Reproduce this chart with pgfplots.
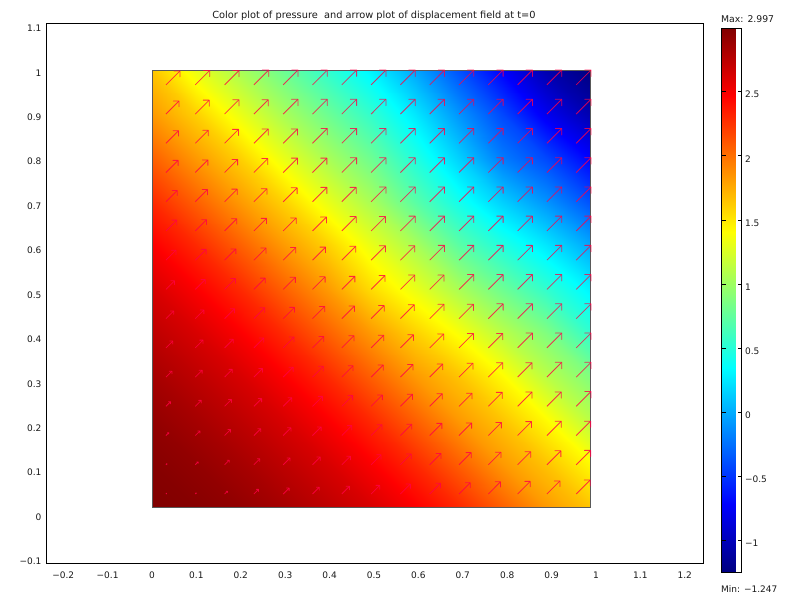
\documentclass[border=0pt]{standalone}
\usepackage{pgfplots}
\pgfplotsset{compat=1.18}
\usepackage{pgfplotstable}
\usepackage{fontspec}
\setmainfont{DejaVu Sans}
\usetikzlibrary{arrows.meta}

% pressure on a regular grid
\pgfplotstableread[row sep=\\]{
x y p\\
0 0.0225 2.997\\ 0.0987 0.0225 2.97\\ 0.1973 0.0225 2.92\\ 0.296 0.0225 2.84\\ 0.3946 0.0225 2.74\\ 0.4933 0.0225 2.63\\ 0.5919 0.0225 2.48\\ 0.6906 0.0225 2.30\\ 0.7892 0.0225 2.07\\ 0.8879 0.0225 1.83\\ 0.9865 0.0225 1.65\\
0 0.1207 2.97\\ 0.0987 0.1207 2.92\\ 0.1973 0.1207 2.84\\ 0.296 0.1207 2.74\\ 0.3946 0.1207 2.63\\ 0.4933 0.1207 2.48\\ 0.5919 0.1207 2.30\\ 0.6906 0.1207 2.07\\ 0.7892 0.1207 1.83\\ 0.8879 0.1207 1.65\\ 0.9865 0.1207 1.42\\
0 0.2189 2.92\\ 0.0987 0.2189 2.84\\ 0.1973 0.2189 2.74\\ 0.296 0.2189 2.63\\ 0.3946 0.2189 2.48\\ 0.4933 0.2189 2.30\\ 0.5919 0.2189 2.07\\ 0.6906 0.2189 1.83\\ 0.7892 0.2189 1.65\\ 0.8879 0.2189 1.42\\ 0.9865 0.2189 1.12\\
0 0.3171 2.84\\ 0.0987 0.3171 2.74\\ 0.1973 0.3171 2.63\\ 0.296 0.3171 2.48\\ 0.3946 0.3171 2.30\\ 0.4933 0.3171 2.07\\ 0.5919 0.3171 1.83\\ 0.6906 0.3171 1.65\\ 0.7892 0.3171 1.42\\ 0.8879 0.3171 1.12\\ 0.9865 0.3171 0.88\\
0 0.4153 2.74\\ 0.0987 0.4153 2.63\\ 0.1973 0.4153 2.48\\ 0.296 0.4153 2.30\\ 0.3946 0.4153 2.07\\ 0.4933 0.4153 1.83\\ 0.5919 0.4153 1.60\\ 0.6906 0.4153 1.38\\ 0.7892 0.4153 1.12\\ 0.8879 0.4153 0.88\\ 0.9865 0.4153 0.55\\
0 0.5135 2.63\\ 0.0987 0.5135 2.48\\ 0.1973 0.5135 2.30\\ 0.296 0.5135 2.07\\ 0.3946 0.5135 1.83\\ 0.4933 0.5135 1.55\\ 0.5919 0.5135 1.32\\ 0.6906 0.5135 1.05\\ 0.7892 0.5135 0.80\\ 0.8879 0.5135 0.55\\ 0.9865 0.5135 0.30\\
0 0.6117 2.48\\ 0.0987 0.6117 2.30\\ 0.1973 0.6117 2.07\\ 0.296 0.6117 1.83\\ 0.3946 0.6117 1.60\\ 0.4933 0.6117 1.32\\ 0.5919 0.6117 1.05\\ 0.6906 0.6117 0.72\\ 0.7892 0.6117 0.48\\ 0.8879 0.6117 0.25\\ 0.9865 0.6117 -0.02\\
0 0.7099 2.30\\ 0.0987 0.7099 2.07\\ 0.1973 0.7099 1.83\\ 0.296 0.7099 1.60\\ 0.3946 0.7099 1.32\\ 0.4933 0.7099 1.05\\ 0.5919 0.7099 0.72\\ 0.6906 0.7099 0.42\\ 0.7892 0.7099 0.15\\ 0.8879 0.7099 -0.10\\ 0.9865 0.7099 -0.38\\
0 0.8081 2.07\\ 0.0987 0.8081 1.83\\ 0.1973 0.8081 1.60\\ 0.296 0.8081 1.32\\ 0.3946 0.8081 1.05\\ 0.4933 0.8081 0.80\\ 0.5919 0.8081 0.48\\ 0.6906 0.8081 0.15\\ 0.7892 0.8081 -0.20\\ 0.8879 0.8081 -0.42\\ 0.9865 0.8081 -0.72\\
0 0.9063 1.83\\ 0.0987 0.9063 1.60\\ 0.1973 0.9063 1.32\\ 0.296 0.9063 1.05\\ 0.3946 0.9063 0.80\\ 0.4933 0.9063 0.55\\ 0.5919 0.9063 0.25\\ 0.6906 0.9063 -0.10\\ 0.7892 0.9063 -0.42\\ 0.8879 0.9063 -0.78\\ 0.9865 0.9063 -1.05\\
0 1.0045 1.65\\ 0.0987 1.0045 1.32\\ 0.1973 1.0045 1.05\\ 0.296 1.0045 0.80\\ 0.3946 1.0045 0.55\\ 0.4933 1.0045 0.30\\ 0.5919 1.0045 -0.02\\ 0.6906 1.0045 -0.38\\ 0.7892 1.0045 -0.72\\ 0.8879 1.0045 -1.05\\ 0.9865 1.0045 -1.247\\
}\pressure

% displacement arrows: position and component (both components about equal)
\pgfplotstableread[row sep=\\]{
x y u\\
.0315 .0518 .002\\ .0975 .0518 .003\\ .1635 .0518 .007\\ .2295 .0518 .011\\ .2955 .0518 .014\\ .3615 .0518 .016\\ .4275 .0518 .018\\ .4935 .0518 .020\\ .5595 .0518 .023\\ .6255 .0518 .025\\ .6915 .0518 .026\\ .7575 .0518 .028\\ .8235 .0518 .029\\ .8895 .0518 .030\\ .9555 .0518 .032\\
.0315 .1176 .003\\ .0975 .1176 .007\\ .1635 .1176 .011\\ .2295 .1176 .014\\ .2955 .1176 .016\\ .3615 .1176 .018\\ .4275 .1176 .020\\ .4935 .1176 .023\\ .5595 .1176 .025\\ .6255 .1176 .026\\ .6915 .1176 .028\\ .7575 .1176 .029\\ .8235 .1176 .030\\ .8895 .1176 .032\\ .9555 .1176 .033\\
.0315 .1834 .007\\ .0975 .1834 .011\\ .1635 .1834 .014\\ .2295 .1834 .016\\ .2955 .1834 .018\\ .3615 .1834 .020\\ .4275 .1834 .023\\ .4935 .1834 .025\\ .5595 .1834 .026\\ .6255 .1834 .028\\ .6915 .1834 .029\\ .7575 .1834 .030\\ .8235 .1834 .032\\ .8895 .1834 .033\\ .9555 .1834 .033\\
.0315 .2492 .011\\ .0975 .2492 .014\\ .1635 .2492 .016\\ .2295 .2492 .018\\ .2955 .2492 .020\\ .3615 .2492 .023\\ .4275 .2492 .025\\ .4935 .2492 .026\\ .5595 .2492 .028\\ .6255 .2492 .029\\ .6915 .2492 .030\\ .7575 .2492 .032\\ .8235 .2492 .033\\ .8895 .2492 .033\\ .9555 .2492 .034\\
.0315 .3150 .014\\ .0975 .3150 .016\\ .1635 .3150 .018\\ .2295 .3150 .020\\ .2955 .3150 .023\\ .3615 .3150 .025\\ .4275 .3150 .026\\ .4935 .3150 .028\\ .5595 .3150 .029\\ .6255 .3150 .030\\ .6915 .3150 .032\\ .7575 .3150 .033\\ .8235 .3150 .033\\ .8895 .3150 .034\\ .9555 .3150 .034\\
.0315 .3808 .016\\ .0975 .3808 .018\\ .1635 .3808 .020\\ .2295 .3808 .023\\ .2955 .3808 .025\\ .3615 .3808 .026\\ .4275 .3808 .028\\ .4935 .3808 .029\\ .5595 .3808 .030\\ .6255 .3808 .032\\ .6915 .3808 .033\\ .7575 .3808 .033\\ .8235 .3808 .034\\ .8895 .3808 .034\\ .9555 .3808 .034\\
.0315 .4466 .018\\ .0975 .4466 .020\\ .1635 .4466 .023\\ .2295 .4466 .025\\ .2955 .4466 .026\\ .3615 .4466 .028\\ .4275 .4466 .029\\ .4935 .4466 .030\\ .5595 .4466 .032\\ .6255 .4466 .033\\ .6915 .4466 .033\\ .7575 .4466 .034\\ .8235 .4466 .034\\ .8895 .4466 .034\\ .9555 .4466 .034\\
.0315 .5124 .020\\ .0975 .5124 .023\\ .1635 .5124 .025\\ .2295 .5124 .026\\ .2955 .5124 .028\\ .3615 .5124 .029\\ .4275 .5124 .030\\ .4935 .5124 .032\\ .5595 .5124 .033\\ .6255 .5124 .033\\ .6915 .5124 .034\\ .7575 .5124 .034\\ .8235 .5124 .034\\ .8895 .5124 .034\\ .9555 .5124 .034\\
.0315 .5782 .023\\ .0975 .5782 .025\\ .1635 .5782 .026\\ .2295 .5782 .028\\ .2955 .5782 .029\\ .3615 .5782 .030\\ .4275 .5782 .032\\ .4935 .5782 .033\\ .5595 .5782 .033\\ .6255 .5782 .034\\ .6915 .5782 .034\\ .7575 .5782 .034\\ .8235 .5782 .034\\ .8895 .5782 .034\\ .9555 .5782 .034\\
.0315 .6440 .025\\ .0975 .6440 .026\\ .1635 .6440 .028\\ .2295 .6440 .029\\ .2955 .6440 .030\\ .3615 .6440 .032\\ .4275 .6440 .033\\ .4935 .6440 .033\\ .5595 .6440 .034\\ .6255 .6440 .034\\ .6915 .6440 .034\\ .7575 .6440 .034\\ .8235 .6440 .034\\ .8895 .6440 .034\\ .9555 .6440 .034\\
.0315 .7098 .026\\ .0975 .7098 .028\\ .1635 .7098 .029\\ .2295 .7098 .030\\ .2955 .7098 .032\\ .3615 .7098 .033\\ .4275 .7098 .033\\ .4935 .7098 .034\\ .5595 .7098 .034\\ .6255 .7098 .034\\ .6915 .7098 .034\\ .7575 .7098 .034\\ .8235 .7098 .034\\ .8895 .7098 .034\\ .9555 .7098 .034\\
.0315 .7756 .028\\ .0975 .7756 .029\\ .1635 .7756 .030\\ .2295 .7756 .032\\ .2955 .7756 .033\\ .3615 .7756 .033\\ .4275 .7756 .034\\ .4935 .7756 .034\\ .5595 .7756 .034\\ .6255 .7756 .034\\ .6915 .7756 .034\\ .7575 .7756 .034\\ .8235 .7756 .034\\ .8895 .7756 .034\\ .9555 .7756 .034\\
.0315 .8414 .029\\ .0975 .8414 .030\\ .1635 .8414 .032\\ .2295 .8414 .033\\ .2955 .8414 .033\\ .3615 .8414 .034\\ .4275 .8414 .034\\ .4935 .8414 .034\\ .5595 .8414 .034\\ .6255 .8414 .034\\ .6915 .8414 .034\\ .7575 .8414 .034\\ .8235 .8414 .034\\ .8895 .8414 .034\\ .9555 .8414 .034\\
.0315 .9072 .030\\ .0975 .9072 .032\\ .1635 .9072 .033\\ .2295 .9072 .033\\ .2955 .9072 .034\\ .3615 .9072 .034\\ .4275 .9072 .034\\ .4935 .9072 .034\\ .5595 .9072 .034\\ .6255 .9072 .034\\ .6915 .9072 .034\\ .7575 .9072 .034\\ .8235 .9072 .034\\ .8895 .9072 .034\\ .9555 .9072 .034\\
.0315 .9730 .032\\ .0975 .9730 .033\\ .1635 .9730 .033\\ .2295 .9730 .034\\ .2955 .9730 .034\\ .3615 .9730 .034\\ .4275 .9730 .034\\ .4935 .9730 .034\\ .5595 .9730 .034\\ .6255 .9730 .034\\ .6915 .9730 .034\\ .7575 .9730 .034\\ .8235 .9730 .034\\ .8895 .9730 .034\\ .9555 .9730 .034\\
}\arrowdata

\definecolor{arrowred}{RGB}{255,0,70}
\definecolor{lbl}{RGB}{25,25,25}

\begin{document}
\begin{tikzpicture}[x=1pt,y=1pt]
\path[use as bounding box] (0,0) rectangle (800,600);
\begin{axis}[
    at={(47pt,37pt)}, anchor=south west,
    scale only axis,
    width=656pt, height=539pt,
    xmin=-0.2365, xmax=1.241,
    ymin=-0.1036, ymax=1.11,
    xtick={-0.2,-0.1,0,0.1,0.2,0.3,0.4,0.5,0.6,0.7,0.8,0.9,1,1.1,1.2},
    xticklabels={−0.2,−0.1,0,0.1,0.2,0.3,0.4,0.5,0.6,0.7,0.8,0.9,1,1.1,1.2},
    ytick={-0.1,0,0.1,0.2,0.3,0.4,0.5,0.6,0.7,0.8,0.9,1,1.1},
    yticklabels={−0.1,0,0.1,0.2,0.3,0.4,0.5,0.6,0.7,0.8,0.9,1,1.1},
    major tick length=0pt,
    tick label style={font=\fontsize{9}{11}\selectfont, text=lbl},
    xticklabel style={yshift=-5pt},
    yticklabel style={xshift=-2pt},
    axis line style={line width=1pt},
    colormap/jet,
    point meta min=-1.247, point meta max=2.997,
    colorbar,
    colorbar style={
        colorbar shift/.style={xshift=18pt},
        yshift=-4pt,
        width=20pt, height=544pt,
        ytick={-1,-0.5,0,0.5,1,1.5,2,2.5},
        yticklabels={−1,−0.5,0,0.5,1,1.5,2,2.5},
        ytick pos=both, yticklabel pos=right,
        tick align=inside,
        major tick length=4pt,
        tick style={black,line width=0.7pt},
        axis line style={line width=0.7pt},
        tick label style={font=\fontsize{9}{11}\selectfont, text=lbl},
        yticklabel style={yshift=-3pt},
    },
]
\addplot[surf, shader=interp, mesh/rows=11, mesh/cols=11, point meta=\thisrow{p}]
    table[x=x,y=y] {\pressure};
% outline of the domain
\addplot[gray!70!black, line width=0.9pt] coordinates {(0,0.0225) (0.9865,0.0225) (0.9865,1.0045) (0,1.0045) (0,0.0225)};
\addplot[
    arrowred, opacity=0.8, line width=0.8pt, point meta=none,
    visualization depends on={\thisrow{u}*133 \as \hl},
    quiver={u=\thisrow{u}, v=\thisrow{u},
        every arrow/.append style={-{Straight Barb[length=\hl pt, width=2*\hl pt, round=false]}}},
] table[x=x,y=y] {\arrowdata};
\end{axis}
\node[anchor=center, text=lbl, font=\fontsize{9.8}{11}\selectfont] at (374,584) {Color plot of pressure\ \ and arrow plot of displacement field at t=0};
\node[anchor=west, inner sep=0pt, text=lbl, font=\fontsize{9.3}{11}\selectfont] at (721,581) {Max: 2.997};
\node[anchor=west, inner sep=0pt, text=lbl, font=\fontsize{9}{11}\selectfont] at (721,11) {Min: −1.247};
\end{tikzpicture}
\end{document}
